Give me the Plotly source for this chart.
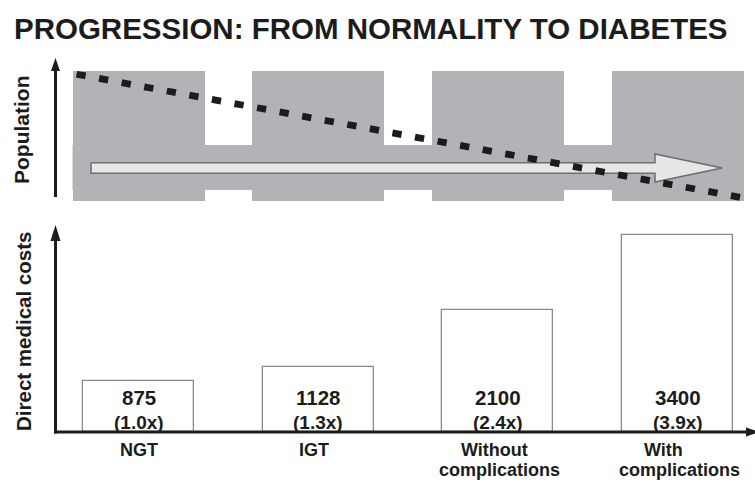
import plotly.graph_objects as go

# ---------------- data ----------------
categories = ["NGT", "IGT", "Without complications", "With complications"]
category_lines = [["NGT"], ["IGT"], ["Without", "complications"], ["With", "complications"]]
costs = [875, 1128, 2100, 3400]
cost_multipliers = ["(1.0x)", "(1.3x)", "(2.4x)", "(3.9x)"]
stage_block_height = [1.0, 1.0, 1.0, 1.0]
population_x = [-0.345, 3.36]
population_y = [0.975, 0.025]
band_low, band_high = 0.085, 0.43
title_text = "PROGRESSION: FROM NORMALITY TO DIABETES"
y_title_top = "Population"
y_title_bottom = "Direct medical costs"

# ---------------- layout helpers ----------------
W, H = 755, 482
def px(x):
    return x / W
def py(y):
    return 1 - y / H

FONT = "Liberation Sans, Arial, Helvetica, sans-serif"
INK = "#1c1c1c"
GRAY = "#b2b3b6"

cat_pos = list(range(len(categories)))
spacing = 179.67
x0_pix = 138.5
x_range = [(56 - x0_pix) / spacing, (755 - x0_pix) / spacing]
x_domain = [px(56), 1.0]

top_scale = 130.0  # px per unit
top_range = [0, (201 - 58) / top_scale]
bot_scale = 197.0 / max(costs)  # px per unit
bot_range = [0, (432 - 225) / bot_scale]

block_w = 132 / spacing
bar_w = 111 / spacing

fig = go.Figure()

# top: stage blocks
fig.add_trace(go.Bar(
    x=cat_pos, y=stage_block_height, width=block_w,
    marker=dict(color=GRAY, line=dict(width=0)),
    xaxis="x2", yaxis="y2", hoverinfo="skip", showlegend=False))

# top: connecting band
band_x = [cat_pos[0] - block_w / 2, cat_pos[-1] + block_w / 2]
fig.add_trace(go.Scatter(
    x=[band_x[0], band_x[1], band_x[1], band_x[0], band_x[0]],
    y=[band_low, band_low, band_high, band_high, band_low],
    fill="toself", fillcolor=GRAY, mode="lines", line=dict(width=0, color=GRAY),
    xaxis="x2", yaxis="y2", hoverinfo="skip", showlegend=False))

# top: progression arrow
ax_start = (91 - x0_pix) / spacing
ax_neck = (655 - x0_pix) / spacing
ax_tip = (722 - x0_pix) / spacing
yc = (201 - 168) / top_scale
sh = 5.3 / top_scale
hh = 14.0 / top_scale
fig.add_trace(go.Scatter(
    x=[ax_start, ax_neck, ax_neck, ax_tip, ax_neck, ax_neck, ax_start, ax_start],
    y=[yc + sh, yc + sh, yc + hh, yc, yc - hh, yc - sh, yc - sh, yc + sh],
    fill="toself", fillcolor="#e7e7e9", mode="lines",
    line=dict(width=1.5, color="#6e6e70"),
    xaxis="x2", yaxis="y2", hoverinfo="skip", showlegend=False))

# top: population trend (dotted)
fig.add_trace(go.Scatter(
    x=population_x, y=population_y, mode="lines",
    line=dict(color=INK, width=6.8, dash="9.3px,13.65px"),
    xaxis="x2", yaxis="y2", hoverinfo="skip", showlegend=False))

# bottom: cost bars
fig.add_trace(go.Bar(
    x=cat_pos, y=costs, width=bar_w,
    marker=dict(color="white", line=dict(color="#8a8a8a", width=1.3)),
    xaxis="x", yaxis="y", hoverinfo="skip", showlegend=False))

annotations = []
# bar labels
for i, (c, m) in enumerate(zip(costs, cost_multipliers)):
    annotations.append(dict(
        x=cat_pos[i], xref="x", y=py(397), yref="paper", yanchor="middle",
        text=f"{c}", showarrow=False,
        font=dict(family=FONT, size=20.5, color=INK, weight="bold")))
    annotations.append(dict(
        x=cat_pos[i], xref="x", y=py(422), yref="paper", yanchor="middle",
        text=f"{m}", showarrow=False,
        font=dict(family=FONT, size=19, color=INK, weight="bold")))

# category labels
line_y = [450, 470]
xshifts = [0, -4, -3, -14]
for i, lines in enumerate(category_lines):
    for j, t in enumerate(lines):
        annotations.append(dict(
            x=cat_pos[i], xref="x", y=py(line_y[j]), yref="paper", yanchor="middle",
            xshift=(xshifts[i] if j == 0 else 2), text=t, showarrow=False,
            font=dict(family=FONT, size=18, color=INK, weight="bold")))

# axis titles
annotations.append(dict(x=px(22), y=py(130), xref="paper", yref="paper",
                        text=y_title_top, textangle=-90, showarrow=False,
                        xanchor="center", yanchor="middle",
                        font=dict(family=FONT, size=21, color=INK, weight="bold")))
annotations.append(dict(x=px(23), y=py(332), xref="paper", yref="paper",
                        text=y_title_bottom, textangle=-90, showarrow=False,
                        xanchor="center", yanchor="middle",
                        font=dict(family=FONT, size=20.5, color=INK, weight="bold")))
# title
annotations.append(dict(x=px(371), y=py(28), xref="paper", yref="paper",
                        text=title_text, showarrow=False,
                        xanchor="center", yanchor="middle",
                        font=dict(family=FONT, size=29.5, color=INK, weight="bold")))

# axes drawn as arrows
shapes = []
AX = 55.5
def vline_arrow(x, y_bottom, y_tip, head_len, head_half):
    shapes.append(dict(type="line", xref="paper", yref="paper",
                       x0=px(x), x1=px(x), y0=py(y_bottom), y1=py(y_tip + head_len - 1),
                       line=dict(color=INK, width=3)))
    shapes.append(dict(type="path", xref="paper", yref="paper",
                       path=f"M {px(x)} {py(y_tip)} L {px(x - head_half)} {py(y_tip + head_len)} "
                            f"L {px(x + head_half)} {py(y_tip + head_len)} Z",
                       fillcolor=INK, line=dict(width=0)))

vline_arrow(AX, 197, 58, 13, 4.5)
vline_arrow(AX, 433.5, 225, 16, 5)
# x arrow
shapes.append(dict(type="line", xref="paper", yref="paper",
                   x0=px(54), x1=px(748), y0=py(432), y1=py(432),
                   line=dict(color=INK, width=3)))
shapes.append(dict(type="path", xref="paper", yref="paper",
                   path=f"M {px(759)} {py(432)} L {px(746)} {py(427.5)} L {px(746)} {py(436.5)} Z",
                   fillcolor=INK, line=dict(width=0)))

fig.update_layout(
    width=W, height=H,
    margin=dict(l=0, r=0, t=0, b=0),
    paper_bgcolor="white", plot_bgcolor="white",
    showlegend=False, bargap=0,
    xaxis=dict(domain=x_domain, range=x_range, visible=False, anchor="y", fixedrange=True),
    yaxis=dict(domain=[py(432), py(225)], range=bot_range, visible=False, anchor="x", fixedrange=True),
    xaxis2=dict(domain=x_domain, range=x_range, visible=False, anchor="y2", fixedrange=True),
    yaxis2=dict(domain=[py(201), py(58)], range=top_range, visible=False, anchor="x2", fixedrange=True),
    annotations=annotations,
    shapes=shapes,
)

post = (
    "document.body.style.margin='0px';"
    "document.body.style.overflow='hidden';"
    "document.querySelectorAll('.scatterlayer .js-line').forEach(function(p){"
    "p.style.strokeLinecap='butt';p.setAttribute('stroke-linecap','butt');});"
)
fig.write_html("out.html", config={"displayModeBar": False}, post_script=post)
